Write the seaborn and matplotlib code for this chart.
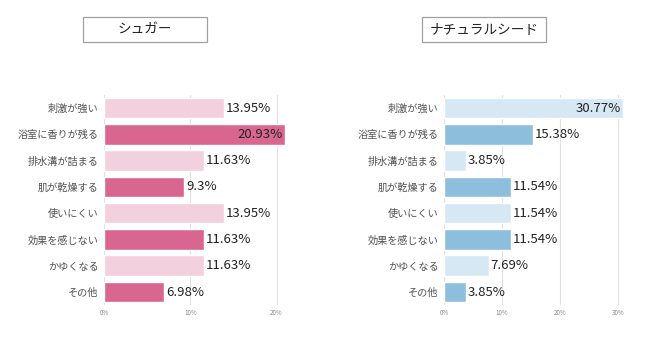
import pandas as pd
import numpy as np
import matplotlib.pyplot as plt
import matplotlib.patches as mpatches
import seaborn as sns

categories = ["刺激が強い", "浴室に香りが残る", "排水溝が詰まる", "肌が乾燥する",
              "使いにくい", "効果を感じない", "かゆくなる", "その他"]
sugar = [13.95, 20.93, 11.63, 9.3, 13.95, 11.63, 11.63, 6.98]
natural = [30.77, 15.38, 3.85, 11.54, 11.54, 11.54, 7.69, 3.85]
titles = ["シュガー", "ナチュラルシード"]
sugar_ticks = [0, 10, 20]
natural_ticks = [0, 10, 20, 30]

pink = ["#F2D0DD", "#D9668F"] * 4
blue = ["#D6E8F3", "#8DBFDD"] * 4

sns.set_theme(style="white")
plt.rcParams['font.family'] = ['Noto Sans CJK JP', 'DejaVu Sans']

fig = plt.figure(figsize=(6.5, 3.54), dpi=100)
ax1 = fig.add_axes([0.16, 0.138, 0.28, 0.594])
ax2 = fig.add_axes([0.683, 0.138, 0.277, 0.594])


def draw(ax, values, palette, ticks, xmax, title, tx):
    df = pd.DataFrame({"cat": categories, "val": values})
    sns.barplot(data=df, x="val", y="cat", hue="cat", palette=palette,
                saturation=1, legend=False, width=0.78, ax=ax, zorder=2)
    ax.set_xlim(0, xmax)
    ax.set_xticks(ticks)
    ax.set_xticklabels([f"{t}%" for t in ticks], fontsize=4.5, color="#888888")
    ax.tick_params(axis="y", labelsize=7.3, colors="#505050", length=0, pad=4)
    ax.tick_params(axis="x", length=0, pad=3)
    ax.set_xlabel("")
    ax.set_ylabel("")
    for s in ax.spines.values():
        s.set_visible(False)
    ax.xaxis.grid(True, color="#E0E0E0", lw=0.8, zorder=0)
    ax.set_axisbelow(True)
    for i, v in enumerate(values):
        if v > xmax * 0.85:
            ax.text(v - xmax * 0.01, i, f"{v:g}%", va="center", ha="right",
                    fontsize=9.5, color="#222222")
        else:
            ax.text(v + xmax * 0.01, i, f"{v:g}%", va="center", ha="left",
                    fontsize=9.5, color="#222222")
    # title box
    w, h = 124 / 650, 25 / 354
    fig.patches.append(mpatches.Rectangle((tx - w / 2, 0.917 - h / 2), w, h,
                                          transform=fig.transFigure, fill=False,
                                          edgecolor="#A0A0A0", lw=0.9))
    fig.text(tx, 0.917, title, ha="center", va="center", fontsize=9.8, color="#222222")


draw(ax1, sugar, pink, sugar_ticks, 21.1, titles[0], 0.223)
draw(ax2, natural, blue, natural_ticks, 31.0, titles[1], 0.745)

plt.savefig("out.png", dpi=100)
